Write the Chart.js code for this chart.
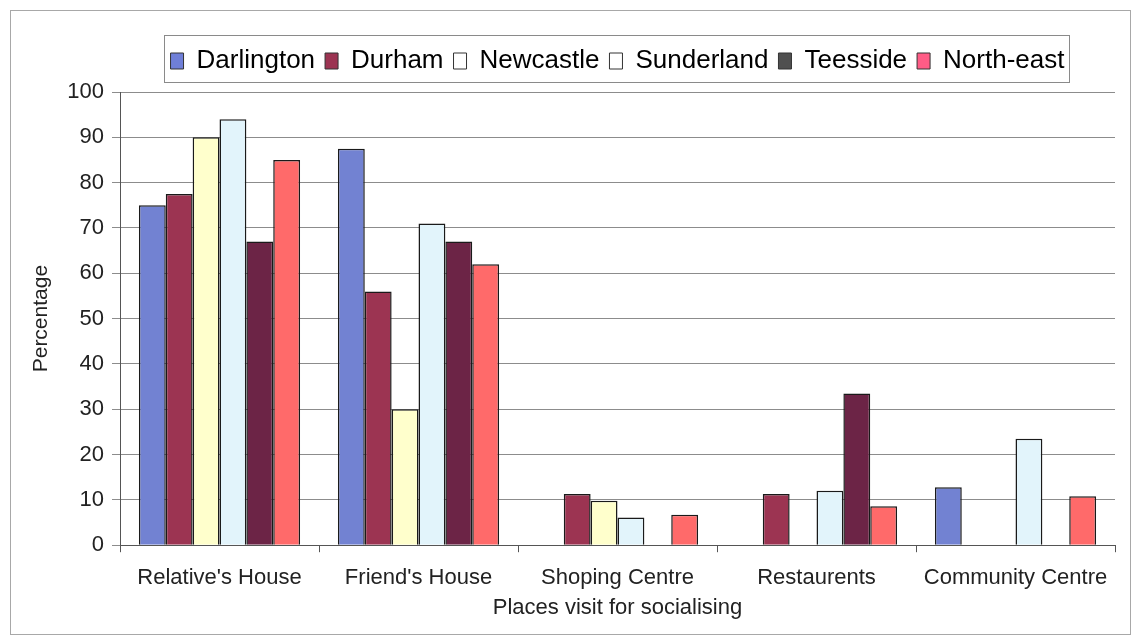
<!DOCTYPE html>
<html>
<head>
<meta charset="utf-8">
<script src="https://cdn.jsdelivr.net/npm/chart.js@4.4.0/dist/chart.umd.min.js"></script>
<style>
    body { margin: 0; background: #fff; }
    #wrap { width: 1134px; height: 640px; position: relative; }
</style>
</head>
<body>
<div id="wrap"><canvas id="chart" width="1134" height="640"></canvas></div>
<script>
// Data
const places = ["Relative's House", "Friend's House", 'Shoping Centre', 'Restaurents', 'Community Centre'];
const regions = ['Darlington', 'Durham', 'Newcastle', 'Sunderland', 'Teesside', 'North-east'];

const darlington = [75, 87.5, 0, 0, 12.8];
const durham = [77.5, 56, 11.3, 11.3, 0];
const newcastle = [90, 30, 9.8, 0, 0];
const sunderland = [94, 71, 6.1, 12, 23.5];
const teesside = [67, 67, 0, 33.5, 0];
const northEast = [85, 62, 6.7, 8.6, 10.8];

const yTicks = [0, 10, 20, 30, 40, 50, 60, 70, 80, 90, 100];

// Styling
const barColors = ['#7282d2', '#9c3452', '#ffffcc', '#e2f4fb', '#6c2446', '#ff6a6a'];
const legendColors = ['#6f7fd8', '#9c3452', '#ffffff', '#ffffff', '#505050', '#ff5c86'];
const textColor = '#222';
const fontFamily = '"Liberation Sans", Arial, sans-serif';

const seriesValues = [darlington, durham, newcastle, sunderland, teesside, northEast];

// Page frame and legend box, like the Excel export
const framePlugin = {
    id: 'frame',
    afterInit(chart) {
        // leave a gap between the legend and the plot
        const legend = chart.legend;
        const origFit = legend.fit;
        legend.fit = function () {
            origFit.call(this);
            if (this.height > 0) this.height += 8;
        };
    },
    beforeDraw(chart) {
        const ctx = chart.ctx;
        ctx.save();
        ctx.fillStyle = '#fff';
        ctx.fillRect(0, 0, chart.width, chart.height);
        ctx.strokeStyle = '#a8a8a8';
        ctx.lineWidth = 1;
        ctx.strokeRect(10.5, 10.5, 1120, 624);
        ctx.restore();
    },
    afterDraw(chart) {
        const legend = chart.legend;
        if (!legend || !legend.legendHitBoxes.length) return;
        const boxes = legend.legendHitBoxes;
        const left = Math.min(...boxes.map(b => b.left)) - 7;
        const right = Math.max(...boxes.map(b => b.left + b.width)) + 4;
        const ctx = chart.ctx;
        ctx.save();
        ctx.strokeStyle = '#8a8a8a';
        ctx.lineWidth = 1;
        ctx.strokeRect(Math.round(left) + 0.5, 35.5, Math.round(right - left), 47);
        ctx.restore();
    }
};

new Chart(document.getElementById('chart'), {
    type: 'bar',
    data: {
        labels: places,
        datasets: regions.map((name, i) => ({
            label: name,
            data: seriesValues[i],
            backgroundColor: barColors[i],
            borderColor: '#1a1a1a',
            borderWidth: 1.5,
            barPercentage: 1.0,
            categoryPercentage: 0.81
        }))
    },
    options: {
        responsive: false,
        animation: false,
        layout: {
            padding: { left: 10, right: 19, top: 38, bottom: 19 }
        },
        plugins: {
            tooltip: { enabled: false },
            legend: {
                position: 'top',
                fullSize: false,
                labels: {
                    color: textColor,
                    font: { family: fontFamily, size: 26 },
                    boxWidth: 13,
                    boxHeight: 16,
                    padding: 10,
                    generateLabels(chart) {
                        return chart.data.datasets.map((ds, i) => ({
                            text: ds.label,
                            fillStyle: legendColors[i],
                            strokeStyle: '#333',
                            lineWidth: 1,
                            datasetIndex: i
                        }));
                    }
                }
            }
        },
        scales: {
            x: {
                grid: {
                    offset: true,
                    drawOnChartArea: false,
                    color: '#555',
                    tickLength: 7
                },
                border: { color: '#555', width: 1 },
                ticks: {
                    color: textColor,
                    font: { family: fontFamily, size: 22 },
                    padding: 13,
                    maxRotation: 0
                },
                title: {
                    display: true,
                    text: 'Places visit for socialising',
                    color: textColor,
                    font: { family: fontFamily, size: 22 },
                    padding: { top: -10, bottom: 0 }
                }
            },
            y: {
                min: 0,
                max: 100,
                afterBuildTicks(scale) {
                    scale.ticks = yTicks.map(v => ({ value: v }));
                },
                afterFit(scale) {
                    scale.width = 110;
                },
                grid: {
                    color: '#8c8c8c',
                    tickLength: 8,
                    lineWidth: 1
                },
                border: { color: '#555', width: 1 },
                ticks: {
                    color: textColor,
                    font: { family: fontFamily, size: 22 },
                    padding: 8
                },
                title: {
                    display: true,
                    text: 'Percentage',
                    color: textColor,
                    font: { family: fontFamily, size: 21 },
                    padding: { top: 19, bottom: 0 }
                }
            }
        }
    },
    plugins: [framePlugin]
});
</script>
</body>
</html>
